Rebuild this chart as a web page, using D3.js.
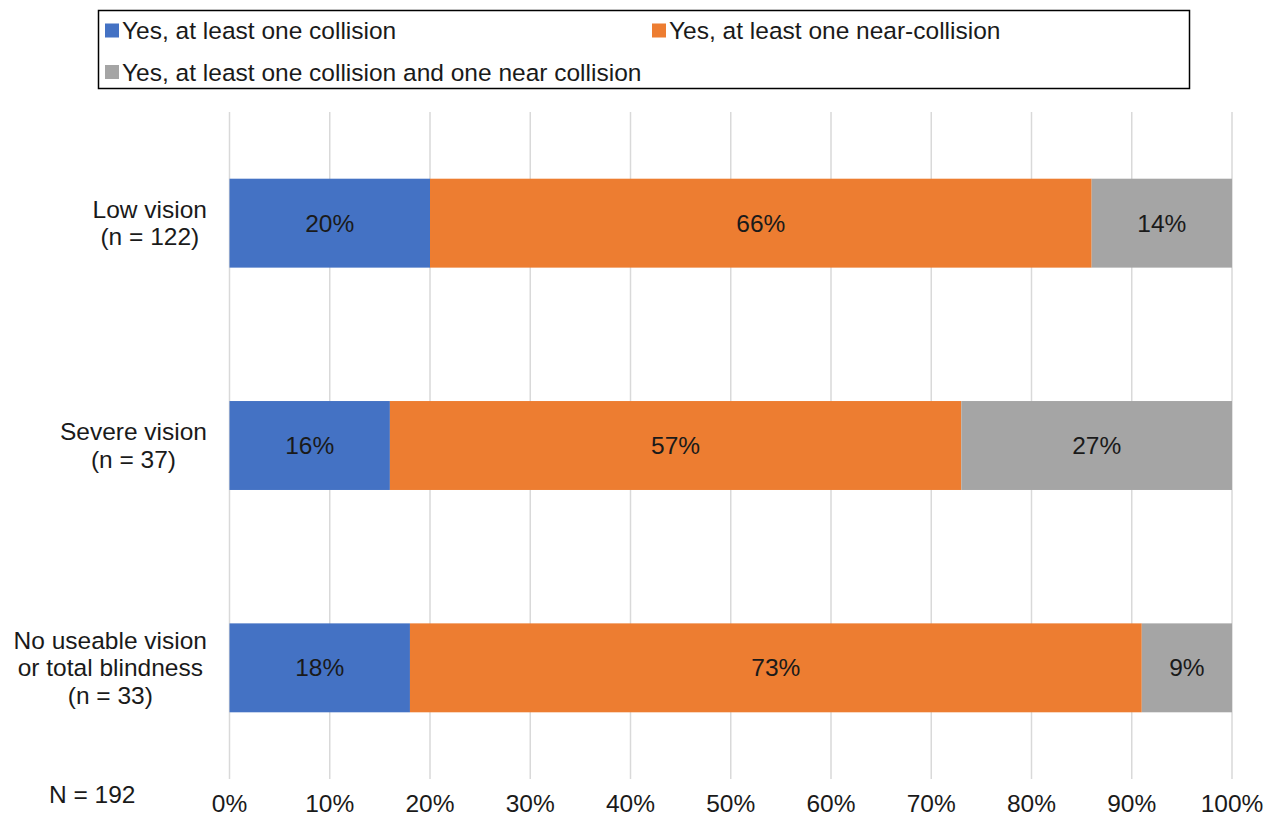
<!DOCTYPE html>
<html>
<head>
<meta charset="utf-8">
<script src="https://cdn.jsdelivr.net/npm/d3@7/dist/d3.min.js"></script>
<style>
  html, body { margin: 0; padding: 0; background: #fff; }
  svg { display: block; font-family: "Liberation Sans", Arial, sans-serif; }
</style>
</head>
<body>
<svg id="chart" width="1278" height="818"></svg>
<script>
// Groups (each label line drawn separately)
const categories = ["Low vision", "Severe vision", "No useable vision"];
const categoryLines = [
  ["Low vision", "(n = 122)"],
  ["Severe vision", "(n = 37)"],
  ["No useable vision", "or total blindness", "(n = 33)"]
];
const seriesNames = [
  "Yes, at least one collision",
  "Yes, at least one near-collision",
  "Yes, at least one collision and one near collision"
];
const collision = [20, 16, 18];
const nearCollision = [66, 57, 73];
const both = [14, 27, 9];
const tickValues = [0, 10, 20, 30, 40, 50, 60, 70, 80, 90, 100];
const colors = ["#4472c4", "#ed7d31", "#a5a5a5"];
const footnote = "N = 192";

const FS = 24.5;
const textColor = "#1a1a1a";
const svg = d3.select("#chart");
const plot = { left: 229.5, right: 1232, top: 112, bottom: 779 };

const x = d3.scaleLinear().domain([0, 100]).range([plot.left, plot.right]);
const y = d3.scaleBand().domain(categories).range([plot.top, plot.bottom])
  .paddingInner(0.6).paddingOuter(0.3);

// Vertical gridlines
svg.append("g").selectAll("line").data(tickValues).join("line")
  .attr("x1", d => x(d)).attr("x2", d => x(d))
  .attr("y1", plot.top).attr("y2", plot.bottom)
  .attr("stroke", "#d9d9d9").attr("stroke-width", 1.5);

// Stack the three series
const rows = categories.map((c, i) => ({ cat: c, s0: collision[i], s1: nearCollision[i], s2: both[i] }));
const stack = d3.stack().keys(["s0", "s1", "s2"])(rows);

const layers = svg.append("g").selectAll("g").data(stack).join("g")
  .attr("fill", (d, i) => colors[i]);
layers.selectAll("rect").data(d => d).join("rect")
  .attr("x", d => x(d[0]))
  .attr("y", d => y(d.data.cat))
  .attr("width", d => x(d[1]) - x(d[0]))
  .attr("height", y.bandwidth());

// Value labels inside segments
const labels = svg.append("g").attr("font-size", FS).attr("fill", textColor).attr("text-anchor", "middle");
stack.forEach(layer => {
  layer.forEach(d => {
    labels.append("text")
      .attr("x", (x(d[0]) + x(d[1])) / 2)
      .attr("y", y(d.data.cat) + y.bandwidth() / 2)
      .attr("dy", "0.35em")
      .text((d[1] - d[0]) + "%");
  });
});

// X axis tick labels
svg.append("g").attr("font-size", FS).attr("fill", textColor).attr("text-anchor", "middle")
  .selectAll("text").data(tickValues).join("text")
  .attr("x", d => x(d)).attr("y", 812)
  .text(d => d + "%");

// Category labels: each block centred on its own width, right edge aligned
const catG = svg.append("g").attr("font-size", FS).attr("fill", textColor);
const lineH = 27.5;
categories.forEach((c, i) => {
  const lines = categoryLines[i];
  const g = catG.append("g");
  const texts = lines.map((t, k) => g.append("text")
    .attr("y", y(c) + y.bandwidth() / 2 + (k - (lines.length - 1) / 2) * lineH)
    .attr("dy", "0.35em").attr("text-anchor", "middle").text(t));
  const w = d3.max(texts, t => t.node().getComputedTextLength());
  texts.forEach(t => t.attr("x", 207 - w / 2));
});

// Footnote
svg.append("text").attr("x", 49).attr("y", 803).attr("font-size", FS).attr("fill", textColor).text(footnote);

// Legend
const legend = svg.append("g");
legend.append("rect").attr("x", 98.5).attr("y", 10.5).attr("width", 1091).attr("height", 78)
  .attr("fill", "none").attr("stroke", "#000").attr("stroke-width", 1.5);
const legendPos = [[105, 30.5], [652, 30.5], [105, 72]];
seriesNames.forEach((name, i) => {
  const [lx, ly] = legendPos[i];
  legend.append("rect").attr("x", lx).attr("y", ly - 7).attr("width", 14).attr("height", 14).attr("fill", colors[i]);
  legend.append("text").attr("x", lx + 17).attr("y", ly).attr("dy", "0.35em")
    .attr("font-size", FS).attr("fill", textColor).text(name);
});
</script>
</body>
</html>
